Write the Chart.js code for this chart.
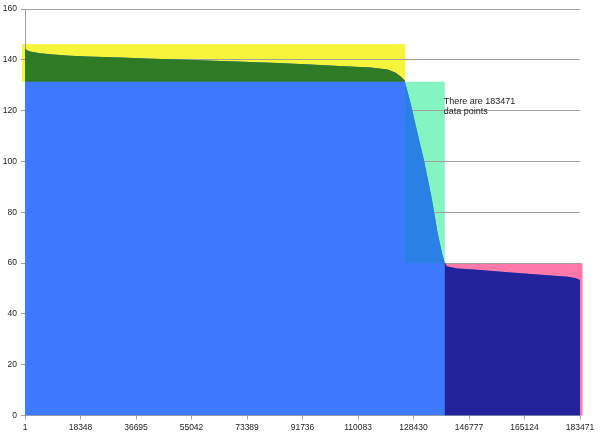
<!DOCTYPE html>
<html>
<head>
<meta charset="utf-8">
<script src="https://cdn.jsdelivr.net/npm/chart.js@4.4.1/dist/chart.umd.min.js"></script>
<style>
    html, body { margin: 0; padding: 0; background: #fff; }
    #wrap { width: 600px; height: 437px; position: relative; }
</style>
</head>
<body>
<div id="wrap"><canvas id="sortedChart"></canvas></div>
<script>
const pointIndex = [1, 663, 1657, 4969, 9274, 14904, 20534, 31462, 42391, 53650,
    64579, 72196, 83456, 94384, 105312, 114254, 119884, 122533, 124189, 125514,
    127501, 130051, 131906, 134456, 136344, 138000, 138760, 139420, 142968, 148366,
    159626, 170555, 179497, 182146, 183471];
const pointValue = [144.5, 143.8, 143.3, 142.6, 142.1, 141.6, 141.3, 140.9, 140.5, 140.1,
    139.6, 139.3, 138.8, 138.2, 137.5, 137.0, 136.2, 134.9, 133.5, 131.9,
    122.7, 109.6, 100.4, 85.5, 72.2, 63.1, 60.2, 58.8, 57.9, 57.5,
    56.4, 55.4, 54.6, 54.0, 53.3];
const xTickLabels = [1, 18348, 36695, 55042, 73389, 91736, 110083, 128430, 146777, 165124, 183471];

// Faixas destacadas: [xDe, xAte, yDe, yAte]
const bandTop = [-1000, 125760, 131.4, 146.2];
const bandDrop = [125760, 138770, 60, 131.4];
const bandTail = [138770, 184300, 0, 60];

const noteLines = ['There are 183471', 'data points'];
const noteAt = [138430, 123.6];

const bands = [bandTop, bandDrop, bandTail];
const bandColors = ['#f6f53c', '#84f4c2', '#ff78a8'];
const bandShade = ['#2f7a24', '#2a80e4', '#22229a'];

// Desenhar as faixas antes da grade e recolorir a área dentro delas
const bandPlugin = {
    id: 'bands',
    beforeDraw(chart) {
        const { ctx, scales: { x, y } } = chart;
        ctx.save();
        bands.forEach((b, i) => {
            const l = x.getPixelForValue(b[0]);
            const r = x.getPixelForValue(b[1]);
            const t = y.getPixelForValue(b[3]);
            const btm = y.getPixelForValue(b[2]);
            ctx.fillStyle = bandColors[i];
            ctx.fillRect(l, t, r - l, btm - t);
        });
        ctx.restore();
    },
    afterDatasetsDraw(chart) {
        const { ctx, scales: { x, y } } = chart;
        const pts = chart.getDatasetMeta(0).data;
        const base = y.getPixelForValue(0);
        ctx.save();
        ctx.beginPath();
        ctx.moveTo(pts[0].x, base);
        pts.forEach(p => ctx.lineTo(p.x, p.y));
        ctx.lineTo(pts[pts.length - 1].x, base);
        ctx.closePath();
        ctx.clip();
        bands.forEach((b, i) => {
            const l = x.getPixelForValue(b[0]);
            const r = x.getPixelForValue(b[1]);
            const t = y.getPixelForValue(b[3]);
            const btm = y.getPixelForValue(b[2]);
            ctx.fillStyle = bandShade[i];
            ctx.fillRect(l, t, r - l, btm - t);
        });
        ctx.restore();
    },
    afterDraw(chart) {
        const { ctx, scales: { x, y } } = chart;
        ctx.save();
        ctx.font = '9px "Liberation Sans", Arial, sans-serif';
        ctx.fillStyle = '#1a1a1a';
        ctx.textBaseline = 'middle';
        const px = x.getPixelForValue(noteAt[0]);
        const py = y.getPixelForValue(noteAt[1]);
        noteLines.forEach((line, i) => ctx.fillText(line, px, py + i * 10));
        ctx.restore();
    }
};

const tickFont = { family: '"Liberation Sans", Arial, sans-serif', size: 8.5 };

new Chart(document.getElementById('sortedChart'), {
    type: 'line',
    data: {
        datasets: [{
            data: pointIndex.map((v, i) => ({ x: v, y: pointValue[i] })),
            backgroundColor: '#3d7aff',
            borderWidth: 0,
            pointRadius: 0,
            tension: 0,
            fill: 'origin'
        }]
    },
    options: {
        responsive: true,
        maintainAspectRatio: false,
        animation: false,
        layout: { padding: { top: 8, right: 20, left: 0, bottom: 0 } },
        plugins: {
            legend: { display: false },
            tooltip: { enabled: false }
        },
        scales: {
            x: {
                type: 'linear',
                min: 1,
                max: 183471,
                afterBuildTicks(scale) {
                    scale.ticks = xTickLabels.map(v => ({ value: v }));
                },
                afterFit(scale) { scale.height = 21.5; },
                grid: { drawOnChartArea: false, drawTicks: true, tickLength: 4, color: '#a0a0a0' },
                border: { color: '#a0a0a0' },
                ticks: {
                    autoSkip: false,
                    maxRotation: 0,
                    padding: 3,
                    color: '#222',
                    font: tickFont,
                    callback: v => String(v)
                }
            },
            y: {
                min: 0,
                max: 160,
                afterFit(scale) { scale.width = 25; },
                grid: { color: '#a0a0a0', tickLength: 4 },
                border: { color: '#a0a0a0' },
                ticks: { stepSize: 20, padding: 4, color: '#222', font: tickFont }
            }
        }
    },
    plugins: [bandPlugin]
});
</script>
</body>
</html>
